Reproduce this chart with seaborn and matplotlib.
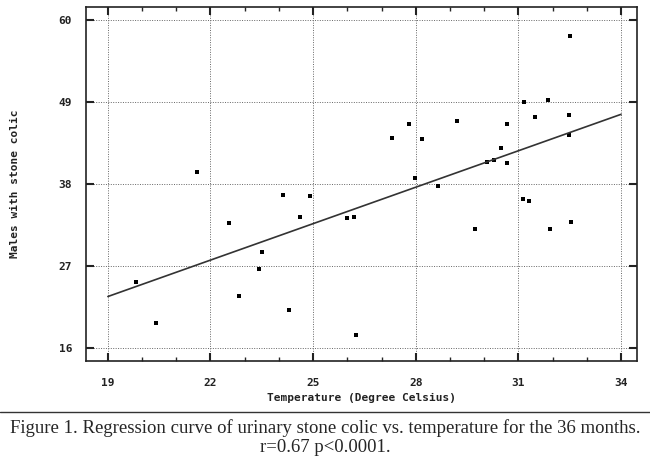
import matplotlib
matplotlib.use("Agg")
import matplotlib.pyplot as plt
import numpy as np
import pandas as pd
import seaborn as sns

# Monthly mean temperature vs. males with stone colic
temperature = [19.82, 20.41, 22.54, 22.83, 23.51, 23.41, 24.12, 24.29, 24.62,
               24.92, 26.00, 26.20, 26.25, 28.64, 29.73, 31.13, 31.32, 31.93,
               32.54, 32.51, 31.17, 31.88, 31.48, 32.49, 32.49, 30.67, 30.48,
               30.09, 30.28, 30.66, 29.20, 27.79, 27.30, 28.19, 27.99, 21.62]
males = [24.8, 19.3, 32.8, 23.0, 28.9, 26.6, 36.5, 21.1, 33.6,
         36.4, 33.5, 33.6, 17.7, 37.7, 31.9, 36.0, 35.7, 32.0,
         32.9, 57.9, 49.0, 49.3, 47.0, 47.3, 44.6, 46.1, 42.8,
         40.9, 41.2, 40.8, 46.5, 46.1, 44.2, 44.1, 38.8, 39.6]

x_ticks = [19, 22, 25, 28, 31, 34]
y_ticks = [16, 27, 38, 49, 60]

df = pd.DataFrame({"temp": temperature, "males": males})

sns.set_style("white")
mono = ["DejaVu Sans Mono"]
serif = ["Liberation Serif", "DejaVu Serif"]

fig = plt.figure(figsize=(6.5, 4.63), dpi=100)
ax = fig.add_axes([86 / 650, 1 - 361 / 463, 551 / 650, 354 / 463])

# regression line drawn across the tick range
slope, intercept = np.polyfit(df["temp"], df["males"], 1)
line = pd.DataFrame({"temp": [x_ticks[0], x_ticks[-1]]})
line["males"] = intercept + slope * line["temp"]
sns.lineplot(data=line, x="temp", y="males", ax=ax, color="#333333", lw=1.2)

sns.scatterplot(data=df, x="temp", y="males", ax=ax, color="black",
                marker="s", s=5, linewidth=0)

ax.set_xlim(18.36, 34.47)
ax.set_ylim(14.26, 61.74)
ax.set_xticks(x_ticks)
ax.set_xticks(range(19, 35), minor=True)
ax.set_yticks(y_ticks)
ax.grid(True, which="major", linestyle=(0, (1, 1.5)), color="#666666", lw=0.7)
ax.tick_params(which="major", direction="in", length=6, width=1.5,
               top=True, right=True, bottom=True, left=True,
               labelsize=8, colors="#222222")
ax.tick_params(which="minor", direction="in", length=3, width=1,
               top=True, bottom=True)
for lab in ax.get_xticklabels() + ax.get_yticklabels():
    lab.set_family(mono)
    lab.set_fontweight("bold")
ax.tick_params(axis="x", pad=12)
ax.tick_params(axis="y", pad=10)
for sp in ax.spines.values():
    sp.set_color("#222222")
    sp.set_linewidth(1.2)

ax.set_xlabel("Temperature (Degree Celsius)", family=mono, fontsize=8,
              fontweight="bold", color="#222222", labelpad=4)
ax.set_ylabel("Males with stone colic", family=mono, fontsize=8,
              fontweight="bold", color="#222222", labelpad=28)

# caption under the chart
fig.add_artist(plt.Line2D([0, 1], [1 - 412 / 463] * 2, color="#333333", lw=1))
fig.text(0.5, 1 - 428 / 463,
         "Figure 1. Regression curve of urinary stone colic vs. temperature for the 36 months.",
         ha="center", va="center", family=serif, fontsize=13.5)
fig.text(0.5, 1 - 447 / 463, "r=0.67 p<0.0001.", ha="center", va="center",
         family=serif, fontsize=13.5)

fig.savefig("out.png", dpi=100)
